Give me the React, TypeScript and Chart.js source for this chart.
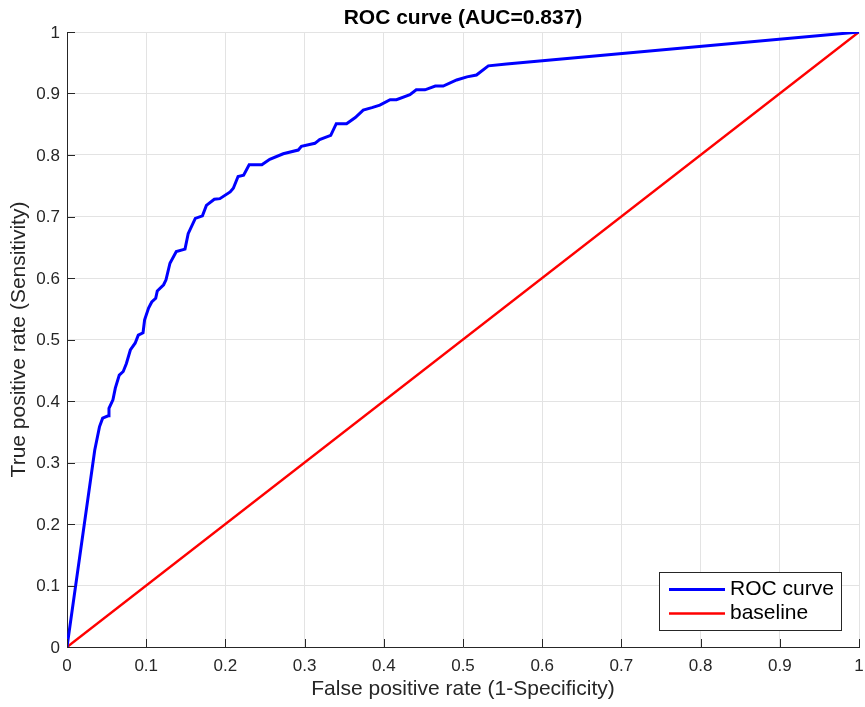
import React, { useEffect, useRef } from "react";
import { Chart, registerables } from "chart.js";

Chart.register(...registerables);

const rocX = [0, 0.035, 0.041, 0.045, 0.052, 0.053, 0.058, 0.061, 0.066, 0.071, 0.075, 0.08, 0.086, 0.09, 0.096, 0.098, 0.103, 0.107, 0.112, 0.114, 0.122, 0.125, 0.13, 0.138, 0.149, 0.153, 0.162, 0.171, 0.176, 0.186, 0.193, 0.206, 0.21, 0.216, 0.223, 0.23, 0.246, 0.256, 0.273, 0.292, 0.296, 0.313, 0.319, 0.333, 0.34, 0.353, 0.364, 0.374, 0.385, 0.395, 0.408, 0.416, 0.433, 0.441, 0.452, 0.465, 0.475, 0.492, 0.505, 0.517, 0.532, 0.555, 1];
const rocY = [0, 0.32, 0.358, 0.372, 0.376, 0.388, 0.402, 0.421, 0.442, 0.448, 0.461, 0.483, 0.494, 0.507, 0.511, 0.532, 0.551, 0.561, 0.567, 0.579, 0.589, 0.597, 0.624, 0.643, 0.647, 0.672, 0.697, 0.701, 0.718, 0.728, 0.729, 0.74, 0.746, 0.765, 0.767, 0.784, 0.784, 0.793, 0.802, 0.808, 0.814, 0.819, 0.825, 0.832, 0.851, 0.851, 0.861, 0.873, 0.877, 0.881, 0.89, 0.89, 0.898, 0.906, 0.906, 0.912, 0.912, 0.922, 0.927, 0.93, 0.945, 0.948, 1];
const baseX = [0, 1];
const baseY = [0, 1];
const tickValues = [0, 0.1, 0.2, 0.3, 0.4, 0.5, 0.6, 0.7, 0.8, 0.9, 1];
const tickLabels = ["0", "0.1", "0.2", "0.3", "0.4", "0.5", "0.6", "0.7", "0.8", "0.9", "1"];
const seriesLabels = ["ROC curve", "baseline"];
const titleText = "ROC curve (AUC=0.837)";
const xTitle = "False positive rate (1-Specificity)";
const yTitle = "True positive rate (Sensitivity)";

const FONT = "'Liberation Sans', Arial, Helvetica, sans-serif";
const AXIS = "#262626";

const decorPlugin = {
  id: "decor",
  afterDatasetsDraw(chart: any) {
    const { ctx, chartArea: a, scales } = chart;
    ctx.save();
    // inward ticks + tick labels
    ctx.strokeStyle = AXIS;
    ctx.lineWidth = 1;
    ctx.fillStyle = AXIS;
    ctx.font = `17px ${FONT}`;
    ctx.textBaseline = "middle";
    tickValues.forEach((v, i) => {
      const xp = scales.x.getPixelForValue(v);
      const x = Math.round(xp) + 0.5;
      ctx.beginPath();
      ctx.moveTo(x, a.bottom);
      ctx.lineTo(x, a.bottom - 8);
      ctx.stroke();
      ctx.textAlign = "center";
      ctx.fillText(tickLabels[i], xp, a.bottom + 19);
      const yp = scales.y.getPixelForValue(v);
      const y = Math.round(yp) + 0.5;
      ctx.beginPath();
      ctx.moveTo(a.left, y);
      ctx.lineTo(a.left + 8, y);
      ctx.stroke();
      ctx.textAlign = "right";
      ctx.fillText(tickLabels[i], a.left - 7, yp + 1);
    });
    // title
    ctx.fillStyle = "#000";
    ctx.font = `bold 21px ${FONT}`;
    ctx.textAlign = "center";
    ctx.textBaseline = "middle";
    ctx.fillText(titleText, (a.left + a.right) / 2, 18);
    // axis titles
    ctx.fillStyle = AXIS;
    ctx.font = `21px ${FONT}`;
    ctx.fillText(xTitle, (a.left + a.right) / 2, 689);
    ctx.save();
    ctx.translate(19, (a.top + a.bottom) / 2);
    ctx.rotate(-Math.PI / 2);
    ctx.fillText(yTitle, 0, 0);
    ctx.restore();
    // legend
    const lx = 659.5, ly = 572.5, lw = 182, lh = 58;
    ctx.fillStyle = "#fff";
    ctx.fillRect(lx, ly, lw, lh);
    ctx.strokeStyle = AXIS;
    ctx.lineWidth = 1;
    ctx.strokeRect(lx, ly, lw, lh);
    ctx.font = `21px ${FONT}`;
    ctx.textAlign = "left";
    chart.data.datasets.forEach((ds: any, i: number) => {
      const y = ly + 17 + i * 24;
      ctx.strokeStyle = ds.borderColor;
      ctx.lineWidth = ds.borderWidth;
      ctx.beginPath();
      ctx.moveTo(669, y);
      ctx.lineTo(725, y);
      ctx.stroke();
      ctx.fillStyle = "#000";
      ctx.fillText(ds.label, 730, y);
    });
    ctx.restore();
  },
};

export default function App() {
  const ref = useRef<HTMLCanvasElement>(null);
  useEffect(() => {
    if (!ref.current) return;
    const chart = new Chart(ref.current, {
      type: "scatter",
      data: {
        datasets: [
          {
            label: seriesLabels[0],
            data: rocX.map((x, i) => ({ x, y: rocY[i] })),
            showLine: true,
            borderColor: "#0000ff",
            borderWidth: 3,
            pointRadius: 0,
            tension: 0,
          },
          {
            label: seriesLabels[1],
            data: baseX.map((x, i) => ({ x, y: baseY[i] })),
            showLine: true,
            borderColor: "#ff0000",
            borderWidth: 2.5,
            pointRadius: 0,
            tension: 0,
          },
        ],
      },
      options: {
        animation: false,
        responsive: false,
        layout: { padding: { left: 0, top: 32, right: 6, bottom: 0 } },
        plugins: { legend: { display: false }, tooltip: { enabled: false }, title: { display: false } },
        scales: {
          x: {
            type: "linear",
            min: 0,
            max: 1,
            afterBuildTicks: (s: any) => {
              s.ticks = tickValues.map((v) => ({ value: v }));
            },
            afterFit: (s: any) => {
              s.height = 60;
            },
            ticks: { display: false },
            grid: { color: "#e3e3e3", drawTicks: false, lineWidth: 1 },
            border: { color: AXIS, width: 1 },
          },
          y: {
            type: "linear",
            min: 0,
            max: 1,
            afterBuildTicks: (s: any) => {
              s.ticks = tickValues.map((v) => ({ value: v }));
            },
            afterFit: (s: any) => {
              s.width = 67;
            },
            ticks: { display: false },
            grid: { color: "#e3e3e3", drawTicks: false, lineWidth: 1 },
            border: { color: AXIS, width: 1 },
          },
        },
      },
      plugins: [decorPlugin],
    } as any);
    return () => chart.destroy();
  }, []);
  return (
    <div style={{ position: "fixed", left: 0, top: 0, width: 865, height: 707, background: "#fff" }}>
      <canvas ref={ref} width={865} height={707} style={{ width: 865, height: 707 }} />
    </div>
  );
}
